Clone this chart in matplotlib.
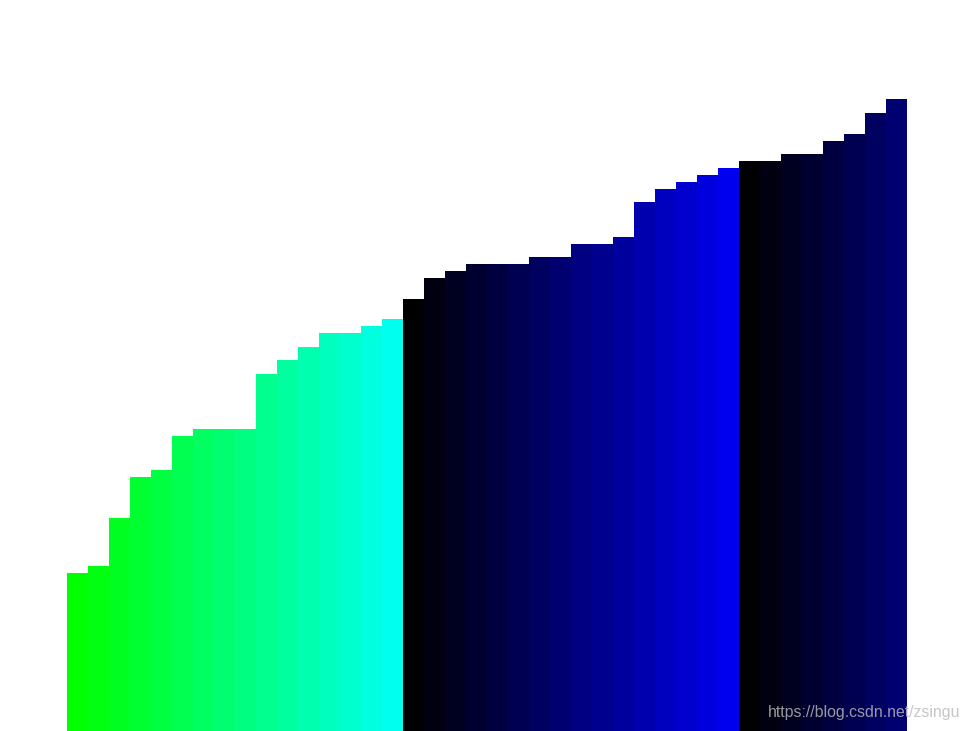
import matplotlib
matplotlib.use("Agg")
import matplotlib.pyplot as plt
import numpy as np

# alturas de las barras, tres grupos ya ordenados
grupo1 = [23, 24, 31, 37, 38, 43, 44, 44, 44, 52, 54, 56, 58, 58, 59, 60]
grupo2 = [63, 66, 67, 68, 68, 68, 69, 69, 71, 71, 72, 77, 79, 80, 81, 82]
grupo3 = [83, 83, 84, 84, 86, 87, 90, 92]

valores = grupo1 + grupo2 + grupo3

# colores: verde -> cian, negro -> azul, negro -> azul marino
colores = []
for i in range(len(grupo1)):
    colores.append((0, 1, i / 16))
for i in range(len(grupo2)):
    colores.append((0, 0, i / 16))
for i in range(len(grupo3)):
    colores.append((0, 0, i / 16))

fig = plt.figure(figsize=(9.69, 7.31), dpi=100)
ax = fig.add_axes([67 / 969, 0, 840 / 969, 1])
x = np.arange(len(valores))
ax.bar(x, valores, width=1.0, color=colores, linewidth=0)
ax.set_xlim(-0.5, len(valores) - 0.5)
ax.set_ylim(0, 731 / 6.865)
ax.axis("off")

# marca de agua
fig.text(768 / 969, 1 - 712 / 731, "https://blog.csdn.net/zsingu",
         family="Liberation Sans", fontsize=11.4, color=(0.73, 0.73, 0.73),
         alpha=0.82, va="center", ha="left")

fig.savefig("out.png", dpi=100)
